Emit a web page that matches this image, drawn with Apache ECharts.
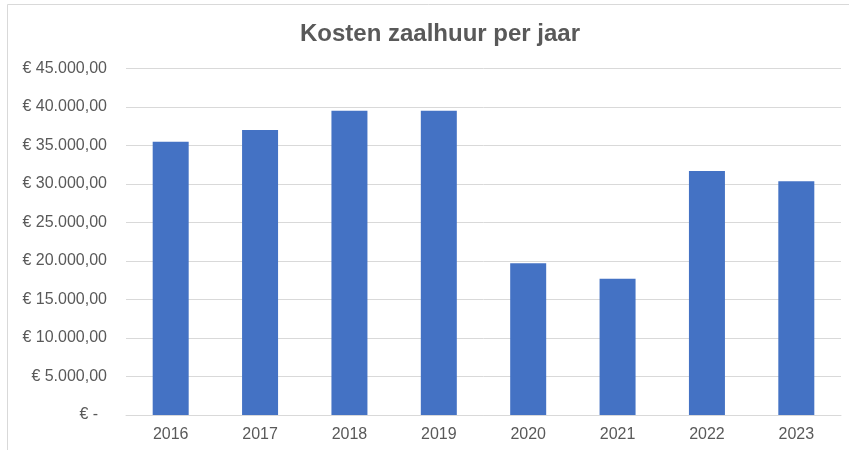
<!DOCTYPE html>
<html><head><meta charset="utf-8">
<script src="https://cdn.jsdelivr.net/npm/echarts@6/dist/echarts.min.js"></script>
<style>html,body{margin:0;padding:0;background:#fff}#c{width:849px;height:450px}</style>
</head><body><div id="c"></div>
<script>
const titleText = 'Kosten zaalhuur per jaar';
const categories = ['2016','2017','2018','2019','2020','2021','2022','2023'];
const values = [35500, 37000, 39500, 39500, 19700, 17700, 31700, 30350];
const yTicks = [0, 5000, 10000, 15000, 20000, 25000, 30000, 35000, 40000, 45000];

function fmt(v){
  if (v === 0) return '€ -  ';
  const s = Math.round(v).toString().replace(/\B(?=(\d{3})+(?!\d))/g, '.');
  return '€ ' + s + ',00';
}

const chart = echarts.init(document.getElementById('c'), null, {renderer:'canvas'});
chart.setOption({
  animation:false,
  backgroundColor:'#fff',
  graphic:[
    {type:'line', shape:{x1:7.5,y1:4.5,x2:849,y2:4.5}, style:{stroke:'#d9d9d9', lineWidth:1}, silent:true},
    {type:'line', shape:{x1:7.5,y1:4.5,x2:7.5,y2:450}, style:{stroke:'#d9d9d9', lineWidth:1}, silent:true}
  ],
  title:{text:titleText, left:435, top:17, textAlign:'center',
    textStyle:{fontFamily:'Liberation Sans, Arial, sans-serif', fontSize:24, fontWeight:'bold', color:'#595959'}},
  grid:{left:126, right:8, top:68.5, bottom:35, containLabel:false},
  xAxis:{type:'category', data:categories,
    axisLine:{lineStyle:{color:'#d9d9d9', width:1}},
    axisTick:{show:false},
    axisLabel:{color:'#595959', fontFamily:'Liberation Sans, Arial, sans-serif', fontSize:16, margin:12}},
  yAxis:{type:'value', min:yTicks[0], max:yTicks[yTicks.length-1], interval:yTicks[1]-yTicks[0],
    axisLine:{show:false}, axisTick:{show:false},
    splitLine:{lineStyle:{color:'#d9d9d9', width:1}},
    axisLabel:{color:'#595959', fontFamily:'Liberation Sans, Arial, sans-serif', fontSize:16, margin:19, formatter:fmt}},
  series:[{type:'bar', data:values, barWidth:36, itemStyle:{color:'#4472c4'}}]
});
</script></body></html>
